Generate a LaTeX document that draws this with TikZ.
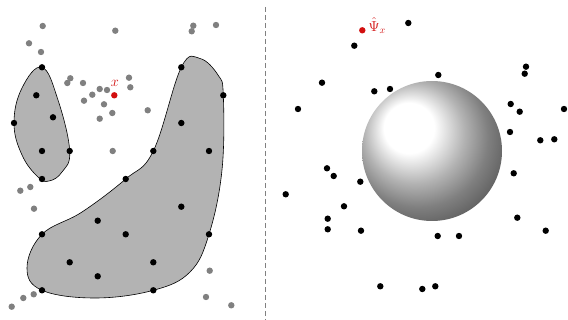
\documentclass[tikz,border=0pt]{standalone}
\usepackage{amsmath}
\usepackage{xcolor}
\usepackage{tikz}
\usetikzlibrary{positioning, calc}
\definecolor{ptgray}{RGB}{128,128,128}
\definecolor{queryred}{RGB}{210,15,15}
\definecolor{blobgray}{RGB}{179,179,179}

\tikzset{
  pt/.style={circle, fill=black, inner sep=0pt, minimum size=6.4pt},
  farpt/.style={pt, fill=ptgray},
  querypt/.style={pt, fill=queryred},
  blob/.style={draw=black, fill=blobgray, line width=0.6pt}
}

\begin{document}
\begin{tikzpicture}[x=1pt, y=-1pt, every node/.style={font=\Large}]
  \useasboundingbox (0,0) rectangle (568,320);
  % left panel: the two regions
  \draw[blob] plot[smooth cycle, tension=0.7] coordinates {(42,67.3) (58,100) (69.7,151) (62,172) (49,181) (38,177) (22,155) (14,123) (22,88)};
  \draw[blob] plot[smooth cycle, tension=0.65] coordinates {(181.3,67.3) (200,58.5) (218,75) (223.3,95.3) (222,170) (209,234.3) (190,272) (153.3,290.3) (95,298) (42,290.3) (27,268) (42,234.3) (82,212) (125.7,179) (153.3,151)};
  % samples outside the regions
  \foreach \p [count=\i] in {(42.7,26),(115.3,30.7),(193.3,25.7),(191.7,31.3),(216,25),(29,43.3),(41,52),(70.3,78.3),(67.3,83),(83,83),(99.7,89),(107,90),(92.3,94.7),(129,77.7),(130.3,87.3),(84,100.7),(104,104.3),(112.3,113),(99.7,118.7),(147.7,110.3),(112.7,151),(20.3,190.7),(30.3,187),(34,208.7),(209.7,270.7),(206,297),(231.3,305.3),(33.7,294.3),(23.3,298),(11.7,306.7)}
    \node[farpt] (g\i) at \p {};
  % samples on and in the regions
  \foreach \p [count=\i] in {(42,67.3),(36.3,95.3),(53,117.3),(14,123),(42,151),(69.7,151),(181.3,67.3),(223.3,95.3),(181.3,123),(153.3,151),(209,151),(42,179),(125.7,179),(181.3,206.7),(97.7,220.7),(42,234.3),(125.7,234.3),(209,234.3),(69.7,262.3),(153.3,262.3),(97.7,276.3),(42,290.3),(153.3,290.3)}
    \node[pt] (b\i) at \p {};
  \node[querypt] (x) at (114.3,95.3) {};
  \node[text=queryred, inner sep=0pt] (xlab) at (115,83.5) {$x$};

  \draw[ptgray, line width=0.9pt, dash pattern=on 5pt off 3pt] (265,7) -- (265,320);

  % right panel: the ball and the mapped samples
  \node[circle, minimum size=140pt, inner sep=0pt, ball color=white] (ball) at (432,151) {};
  \foreach \p [count=\i] in {(408.3,23),(354.3,45.7),(322,82.7),(298,109),(374.3,91.3),(390,89),(438.3,75),(526,66.7),(524.7,73.7),(510.7,104),(519.7,111.7),(564,109),(510,132),(540.3,140.3),(554.3,139.3),(327,168.3),(333.7,176),(360.3,181.7),(285.7,194.3),(344,206.3),(327.7,218.7),(327.7,229.3),(361,230.7),(437.7,236),(459,236),(513.7,173.3),(517.3,217.7),(545.7,230.7),(380.3,286.3),(422.3,289),(435.3,286.3)}
    \node[pt] (r\i) at \p {};
  \node[querypt] (psi) at (362.3,30.3) {};
  \node[text=queryred, anchor=south west, inner sep=0pt] (psilab) at (368.5,33.5) {$\hat{\Psi}_x$};
\end{tikzpicture}
\end{document}
